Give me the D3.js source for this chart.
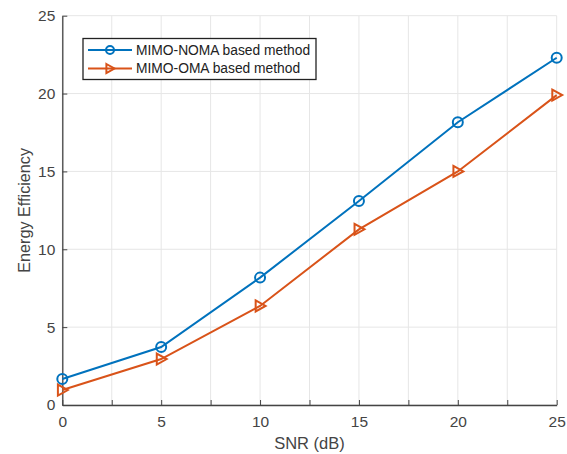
<!DOCTYPE html>
<html>
<head>
<meta charset="utf-8">
<script src="https://cdn.jsdelivr.net/npm/d3@7"></script>
<style>
  body { margin: 0; background: #fff; }
  text { font-family: "Liberation Sans", Arial, sans-serif; }
</style>
</head>
<body>
<div id="chart"></div>
<script>
// 1. Data
const snr = [0, 5, 10, 15, 20, 25];
const nomaValues = [1.67, 3.72, 8.18, 13.1, 18.16, 22.3];
const omaValues = [0.96, 2.95, 6.36, 11.28, 15.0, 19.9];
const seriesNames = ["MIMO-NOMA based method", "MIMO-OMA based method"];
const xTicks = [0, 5, 10, 15, 20, 25];
const xMinorTicks = [0, 2.5, 5, 7.5, 10, 12.5, 15, 17.5, 20, 22.5, 25];
const yTicks = [0, 5, 10, 15, 20, 25];

const series = [
  { name: seriesNames[0], values: nomaValues, color: "#0072BD", marker: "circle" },
  { name: seriesNames[1], values: omaValues, color: "#D95319", marker: "triangle" },
];

// 2. Dimensions
const dims = {
  width: 567,
  height: 454,
  margin: { top: 15.7, right: 10.3, bottom: 49, left: 62.3 },
};
dims.containerWidth = dims.width - dims.margin.left - dims.margin.right;
dims.containerHeight = dims.height - dims.margin.top - dims.margin.bottom;

// 3. Container
const svg = d3.select("#chart")
  .append("svg")
  .attr("width", dims.width)
  .attr("height", dims.height);

const container = svg.append("g")
  .attr("transform", `translate(${dims.margin.left},${dims.margin.top})`);

// 4. Scales
const xScale = d3.scaleLinear().domain([0, 25]).range([0, dims.containerWidth]);
const yScale = d3.scaleLinear().domain([0, 25]).range([dims.containerHeight, 0]);

// grid
const grid = container.append("g");
grid.selectAll(".vg").data(xMinorTicks).join("line")
  .attr("x1", d => xScale(d)).attr("x2", d => xScale(d))
  .attr("y1", 0).attr("y2", dims.containerHeight)
  .attr("stroke", "#e6e6e6").attr("stroke-width", 1);
grid.selectAll(".hg").data(yTicks).join("line")
  .attr("x1", 0).attr("x2", dims.containerWidth)
  .attr("y1", d => yScale(d)).attr("y2", d => yScale(d))
  .attr("stroke", "#e6e6e6").attr("stroke-width", 1);

// 6. Axes
const xAxisGroup = container.append("g")
  .attr("transform", `translate(0,${dims.containerHeight})`)
  .call(d3.axisBottom(xScale).tickValues(xMinorTicks).tickSizeInner(-5).tickSizeOuter(0)
    .tickFormat(d => xTicks.includes(d) ? d : ""));
xAxisGroup.selectAll("text").attr("y", 3).attr("dy", "1.25em");
xAxisGroup.append("text")
  .attr("x", dims.containerWidth / 2)
  .attr("y", 44)
  .attr("fill", "#444")
  .attr("text-anchor", "middle")
  .style("font-size", "16.5px")
  .text("SNR (dB)");

const yAxisGroup = container.append("g")
  .call(d3.axisLeft(yScale).tickValues(yTicks).tickSizeInner(-5).tickSizeOuter(0));
yAxisGroup.selectAll("text").attr("x", -7);
yAxisGroup.append("text")
  .attr("transform", "rotate(-90)")
  .attr("x", -dims.containerHeight / 2)
  .attr("y", -32)
  .attr("fill", "#444")
  .attr("text-anchor", "middle")
  .style("font-size", "16.2px")
  .text("Energy Efficiency");

[xAxisGroup, yAxisGroup].forEach(g => {
  g.select(".domain").attr("stroke", "#444").attr("stroke-width", 1.3);
  g.selectAll(".tick line").attr("stroke", "#444");
  g.selectAll(".tick text").attr("fill", "#444").style("font-size", "15.5px");
});

// 5. Draw
const lineGenerator = d3.line()
  .x((d, i) => xScale(snr[i]))
  .y(d => yScale(d));

const triangle = (cx, cy, r) =>
  `M${cx - r * 0.8},${cy - r} L${cx + r},${cy} L${cx - r * 0.8},${cy + r} Z`;

series.forEach(s => {
  container.append("path")
    .datum(s.values)
    .attr("d", lineGenerator)
    .attr("fill", "none")
    .attr("stroke", s.color)
    .attr("stroke-width", 2);

  if (s.marker === "circle") {
    container.selectAll(null).data(s.values).join("circle")
      .attr("cx", (d, i) => xScale(snr[i]))
      .attr("cy", d => yScale(d))
      .attr("r", 5)
      .attr("fill", "none")
      .attr("stroke", s.color)
      .attr("stroke-width", 2);
  } else {
    container.selectAll(null).data(s.values).join("path")
      .attr("d", (d, i) => triangle(xScale(snr[i]), yScale(d), 5.5))
      .attr("fill", "none")
      .attr("stroke", s.color)
      .attr("stroke-width", 2);
  }
});

// Legend
const legend = svg.append("g").attr("transform", "translate(83,38.5)");
legend.append("rect")
  .attr("width", 233).attr("height", 41)
  .attr("fill", "#fff").attr("stroke", "#222").attr("stroke-width", 1.3);
series.forEach((s, i) => {
  const y = 11.5 + i * 18.5;
  const row = legend.append("g");
  row.append("line").attr("x1", 5).attr("x2", 49).attr("y1", y).attr("y2", y)
    .attr("stroke", s.color).attr("stroke-width", 2);
  if (s.marker === "circle") {
    row.append("circle").attr("cx", 27).attr("cy", y).attr("r", 4)
      .attr("fill", "none").attr("stroke", s.color).attr("stroke-width", 2);
  } else {
    row.append("path").attr("d", triangle(27, y, 4.5))
      .attr("fill", "none").attr("stroke", s.color).attr("stroke-width", 2);
  }
  row.append("text").attr("x", 53).attr("y", y).attr("dy", "0.35em")
    .attr("fill", "#222").style("font-size", "13.8px").text(s.name);
});
</script>
</body>
</html>
